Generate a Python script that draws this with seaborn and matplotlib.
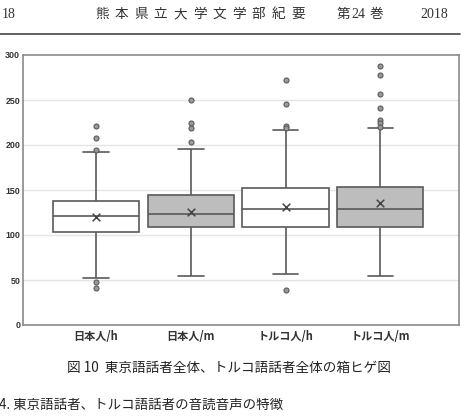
import matplotlib
matplotlib.use("Agg")
import matplotlib.pyplot as plt
from matplotlib.lines import Line2D
import seaborn as sns
import pandas as pd

# ---- data ----
groups = ["日本人/h", "日本人/m", "トルコ人/h", "トルコ人/m"]
whisker_low = [52.6, 54.8, 56.7, 54.4]
q1 = [103.0, 109.0, 108.5, 109.0]
median = [121.5, 123.0, 129.0, 128.5]
q3 = [138.0, 145.0, 152.0, 153.0]
whisker_high = [192.5, 195.5, 216.5, 218.5]
means = [119.6, 126.0, 131.5, 136.0]
fliers_jp_h = [221.0, 208.0, 194.0, 47.8, 41.0]
fliers_jp_m = [250.0, 224.5, 218.5, 203.5]
fliers_tr_h = [272.0, 245.5, 221.5, 219.0, 38.5]
fliers_tr_m = [288.0, 277.5, 257.0, 241.0, 227.5, 224.0, 220.5]
yticks = [0, 50, 100, 150, 200, 250, 300]
header_title = "熊本県立大学文学部紀要"

sns.set_style("white")
plt.rcParams["font.family"] = ["Noto Sans CJK JP", "DejaVu Sans"]

# five-number summaries -> long table (quartiles fall exactly on the values)
rows = []
for g, a, b, c, d, e in zip(groups, whisker_low, q1, median, q3, whisker_high):
    for v in (a, b, c, d, e):
        rows.append({"group": g, "value": v})
box_df = pd.DataFrame(rows)

flier_lists = [fliers_jp_h, fliers_jp_m, fliers_tr_h, fliers_tr_m]
flier_df = pd.DataFrame([{"group": g, "value": v}
                         for g, fl in zip(groups, flier_lists) for v in fl])
mean_df = pd.DataFrame({"group": groups, "value": means})

fig = plt.figure(figsize=(4.66, 4.16), dpi=100)
ax = fig.add_axes([23 / 466, 1 - 325 / 416, 436 / 466, 270 / 416])

line_c = "#5a5a5a"
palette = {"日本人/h": "white", "日本人/m": "#bdbdbd",
           "トルコ人/h": "white", "トルコ人/m": "#bdbdbd"}

for y in yticks[1:-1]:
    ax.axhline(y, color="#e4e4e4", lw=1.0, zorder=0)

sns.boxplot(data=box_df, x="group", y="value", order=groups, hue="group",
            palette=palette, legend=False, whis=(0, 100), showfliers=False,
            width=0.91, linecolor=line_c, linewidth=1.2, capwidths=0.27,
            ax=ax, zorder=2)

sns.stripplot(data=flier_df, x="group", y="value", order=groups, jitter=False,
              color="#9a9a9a", edgecolor="#5a5a5a", linewidth=0.8, size=3.6,
              ax=ax, zorder=3)

sns.stripplot(data=mean_df, x="group", y="value", order=groups, jitter=False,
              marker="x", color="#444444", linewidth=1.1, size=5.5,
              ax=ax, zorder=4)

ax.set_xlim(-0.77, 3.83)
ax.set_ylim(0, 300)
ax.set_yticks(yticks)
ax.set_yticklabels([str(t) for t in yticks], fontsize=6.4, fontweight="bold",
                   color="#333333", family=["Liberation Sans", "DejaVu Sans"])
ax.set_xticks(range(len(groups)))
ax.set_xticklabels(groups, fontsize=8.0, fontweight="bold", color="#333333")
ax.tick_params(axis="both", length=0, pad=2)
ax.tick_params(axis="x", pad=3.5)
ax.set_xlabel("")
ax.set_ylabel("")
for s in ax.spines.values():
    s.set_visible(True)
    s.set_color("#8a8a8a")
    s.set_linewidth(1.2)

# ---- page header, caption and section heading ----
hdr_c = "#333333"
fig.text(2 / 466, 1 - 15 / 416, "18", fontsize=10, va="center", ha="left",
         family=["Liberation Serif", "DejaVu Serif"], color=hdr_c)
for i, ch in enumerate(header_title):
    fig.text((95 + i * 19.6) / 466, 1 - 14 / 416, ch, fontsize=9.8,
             va="center", ha="left", color=hdr_c)
fig.text(337 / 466, 1 - 14 / 416, "第", fontsize=9.8, va="center", ha="left",
         color=hdr_c)
fig.text(351 / 466, 1 - 15 / 416, "24", fontsize=10, va="center", ha="left",
         family=["Liberation Serif", "DejaVu Serif"], color=hdr_c)
fig.text(370 / 466, 1 - 14 / 416, "巻", fontsize=9.8, va="center", ha="left",
         color=hdr_c)
fig.text(420 / 466, 1 - 15 / 416, "2018", fontsize=10, va="center", ha="left",
         family=["Liberation Serif", "DejaVu Serif"], color=hdr_c)
fig.add_artist(Line2D([0, 460 / 466], [1 - 34 / 416, 1 - 34 / 416],
                      color="#555555", lw=1.3, transform=fig.transFigure))

fig.text(229 / 466, 1 - 368 / 416, "図 10  東京語話者全体、トルコ語話者全体の箱ヒゲ図",
         fontsize=9.8, ha="center", va="center", color="#222222")
fig.text(-1 / 466, 1 - 405 / 416, "4. 東京語話者、トルコ語話者の音読音声の特徴",
         fontsize=9.7, ha="left", va="center", color="#222222")

fig.savefig("out.png", dpi=100)
